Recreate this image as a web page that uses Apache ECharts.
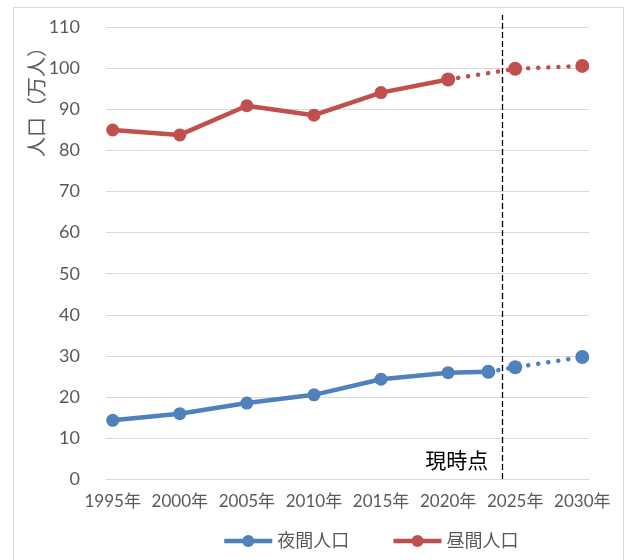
<!DOCTYPE html>
<html>
<head>
<meta charset="utf-8">
<script src="https://cdn.jsdelivr.net/npm/echarts@6.0.0/dist/echarts.min.js"></script>
<style>
    body { margin: 0; background: #fff; }
    .frame { position: absolute; left: 13px; top: 7px; width: 611px; height: 560px; border: 1px solid #d9d9d9; box-sizing: border-box; }
    #chart { position: absolute; left: 0; top: 0; width: 630px; height: 560px; }
</style>
</head>
<body>
<div class="frame"></div>
<div id="chart"></div>
<script>
    // x axis categories (every year, label every 5th)
    var years = ['1995','1996','1997','1998','1999','2000','2001','2002','2003','2004',
                 '2005','2006','2007','2008','2009','2010','2011','2012','2013','2014',
                 '2015','2016','2017','2018','2019','2020','2021','2022','2023','2024',
                 '2025','2026','2027','2028','2029','2030'];

    // 夜間人口 (万人)
    var nightYears = ['1995','2000','2005','2010','2015','2020','2023'];
    var nightValues = [14.3, 15.9, 18.5, 20.5, 24.3, 25.9, 26.1];
    var nightFutureYears = ['2023','2025','2030'];
    var nightFutureValues = [26.1, 27.2, 29.7];

    // 昼間人口 (万人)
    var dayYears = ['1995','2000','2005','2010','2015','2020'];
    var dayValues = [85.0, 83.8, 90.9, 88.6, 94.1, 97.3];
    var dayFutureYears = ['2020','2025','2030'];
    var dayFutureValues = [97.3, 99.9, 100.6];

    var nowYear = '2024';

    var blue = '#4f81bd';
    var red = '#c0504d';
    var textColor = '#595959';
    var font = 'Lato, "Noto Sans CJK JP", sans-serif';

    function pairs(xs, ys) {
        return xs.map(function (x, i) { return [x, ys[i]]; });
    }

    var solidLine = { width: 4.5 };
    var dotLine = { width: 4.5, type: [0.1, 10], cap: 'round' };

    var myChart = echarts.init(document.getElementById('chart'));
    var options = {
        animation: false,
        textStyle: { fontFamily: font },
        grid: {
            left: 106,
            right: 41,
            top: 15,
            bottom: 81
        },
        legend: {
            bottom: 5,
            left: 217,
            itemWidth: 48,
            itemHeight: 15,
            itemGap: 42,
            data: ['夜間人口', '昼間人口'],
            lineStyle: { width: 4.5 },
            textStyle: { color: textColor, fontSize: 18, fontFamily: font }
        },
        xAxis: {
            type: 'category',
            boundaryGap: true,
            data: years,
            axisLine: { lineStyle: { color: '#d9d9d9', width: 1 } },
            axisTick: { interval: 0, length: 5, lineStyle: { color: '#d9d9d9' } },
            axisLabel: {
                interval: 4,
                margin: 14,
                color: textColor,
                fontSize: 17,
                formatter: function (v) { return v + '年'; }
            }
        },
        yAxis: {
            type: 'value',
            min: 0,
            max: 113,
            interval: 10,
            name: '人口（万人）',
            nameLocation: 'middle',
            nameGap: 58,
            nameMoveOverlap: false,
            nameRotate: 90,
            nameTextStyle: { color: textColor, fontSize: 20, padding: [0, 0, 0, 300] },
            axisLine: { show: false },
            axisTick: { show: false },
            axisLabel: { color: textColor, fontSize: 18, margin: 26, showMaxLabel: false },
            splitLine: { showMaxLine: false, lineStyle: { color: '#d9d9d9', width: 1 } }
        },
        series: [
            {
                name: '夜間人口',
                type: 'line',
                data: pairs(nightYears, nightValues),
                symbol: 'circle',
                symbolSize: 13,
                showAllSymbol: true,
                color: blue,
                lineStyle: solidLine,
                z: 3,
                markLine: {
                    silent: true,
                    symbol: ['none', 'none'],
                    lineStyle: { color: '#000', width: 1.3, type: [6, 3] },
                    label: {
                        formatter: '現時点',
                        position: 'start',
                        offset: [-45, -33],
                        color: '#000',
                        fontSize: 21,
                        fontFamily: font
                    },
                    data: [{ xAxis: nowYear }]
                }
            },
            {
                name: '夜間人口',
                type: 'line',
                data: pairs(nightFutureYears, nightFutureValues),
                symbol: 'circle',
                symbolSize: 14,
                showAllSymbol: true,
                color: blue,
                lineStyle: dotLine,
                z: 2
            },
            {
                name: '昼間人口',
                type: 'line',
                data: pairs(dayYears, dayValues),
                symbol: 'circle',
                symbolSize: 13,
                showAllSymbol: true,
                color: red,
                lineStyle: solidLine,
                z: 3
            },
            {
                name: '昼間人口',
                type: 'line',
                data: pairs(dayFutureYears, dayFutureValues),
                symbol: 'circle',
                symbolSize: 14,
                showAllSymbol: true,
                color: red,
                lineStyle: dotLine,
                z: 2
            }
        ]
    };
    myChart.setOption(options);
</script>
</body>
</html>
